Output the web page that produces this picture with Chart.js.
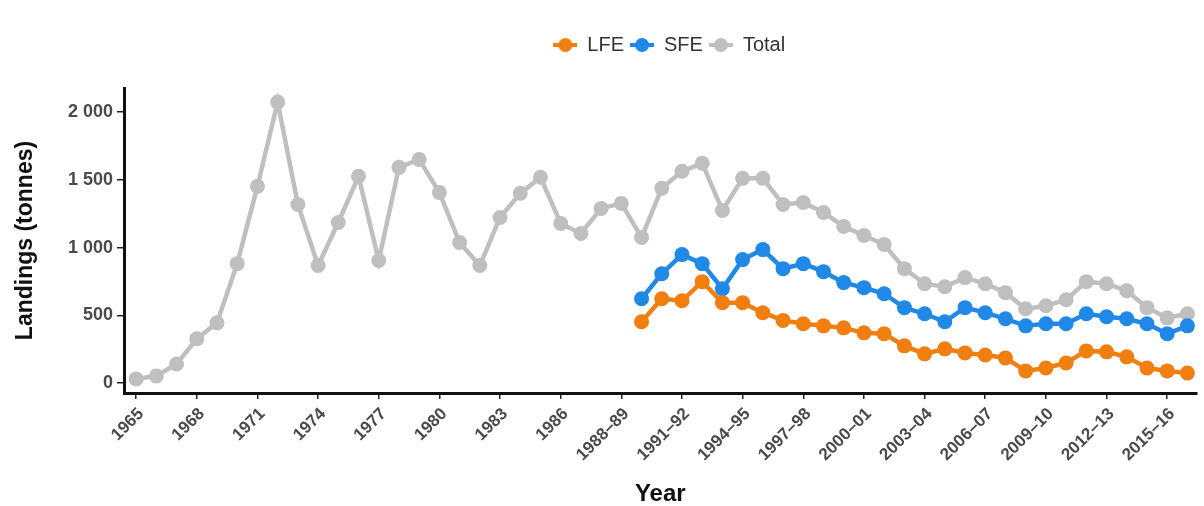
<!DOCTYPE html>
<html>
<head>
<meta charset="utf-8">
<script src="https://cdn.jsdelivr.net/npm/chart.js@4.4.1/dist/chart.umd.min.js"></script>
<style>
  html, body { margin: 0; padding: 0; background: #ffffff; }
  #wrap { width: 1204px; height: 506px; position: relative; }
</style>
</head>
<body>
<div id="wrap"><canvas id="landings"></canvas></div>
<script>
// Fishing years: calendar years to 1988, then financial seasons
const categories = [
  '1965','1966','1967','1968','1969','1970','1971','1972','1973','1974',
  '1975','1976','1977','1978','1979','1980','1981','1982','1983','1984',
  '1985','1986','1987','1988',
  '1988–89','1989–90','1990–91','1991–92','1992–93','1993–94','1994–95',
  '1995–96','1996–97','1997–98','1998–99','1999–00','2000–01','2001–02',
  '2002–03','2003–04','2004–05','2005–06','2006–07','2007–08','2008–09',
  '2009–10','2010–11','2011–12','2012–13','2013–14','2014–15','2015–16',
  '2016–17'
];

// Total landings (tonnes), one value per category
const totalLandings = [
  30, 52, 140, 326, 444, 881, 1452, 2074, 1318, 867,
  1185, 1526, 904, 1592, 1650, 1407, 1037, 867, 1222, 1400,
  1519, 1178, 1104, 1289,
  1326, 1074, 1437, 1563, 1622, 1274, 1511,
  1511, 1318, 1333, 1259, 1156, 1089, 1022,
  844, 733, 711, 778, 733, 667, 548,
  570, 615, 748, 733, 681, 556, 481,
  511
];

// Split fishery series begin in this season
const splitStart = '1989–90';

// Large-fish (LFE) landings from 1989–90
const lfeLandings = [
  452, 622, 607, 748, 593, 593, 519, 462, 437, 422,
  407, 370, 363, 274, 215, 252, 222, 207, 185, 89,
  111, 148, 237, 230, 193, 111, 89, 74
];

// Small-fish (SFE) landings from 1989–90
const sfeLandings = [
  622, 807, 948, 881, 696, 911, 985, 844, 881, 822,
  741, 704, 659, 556, 511, 452, 556, 519, 474, 422,
  437, 437, 511, 489, 474, 437, 363, 422
];

const yTickValues = [0, 500, 1000, 1500, 2000];
const xTickStep = 3;

const seriesColours = { LFE: '#F07F10', SFE: '#2088E6', Total: '#BFBFBF' };

const startIdx = categories.indexOf(splitStart);
const toPoints = (arr, offset) => arr.map((v, i) => ({ x: i + offset, y: v }));

const formatThousands = v => {
  const s = String(Math.round(v));
  return s.length > 3 ? s.slice(0, s.length - 3) + ' ' + s.slice(-3) : s;
};

// Legend key: short line segment with a dot on it
function legendKey(colour) {
  const c = document.createElement('canvas');
  c.width = 24; c.height = 16;
  const g = c.getContext('2d');
  g.strokeStyle = colour;
  g.lineWidth = 4;
  g.beginPath(); g.moveTo(0, 8); g.lineTo(24, 8); g.stroke();
  g.fillStyle = colour;
  g.beginPath(); g.arc(12, 8, 7, 0, Math.PI * 2); g.fill();
  return c;
}

// Extra room between the legend and the plot, and a slight nudge to the right
const legendPlacement = {
  id: 'legendPlacement',
  beforeInit(chart) {
    const origFit = chart.legend.fit;
    chart.legend.fit = function () {
      origFit.bind(chart.legend)();
      this.height += 23;
    };
  },
  afterLayout(chart) {
    chart.legend.left += 9;
    chart.legend.right += 9;
  }
};

const family = 'Liberation Sans, Arial, sans-serif';

const lineDataset = (label, points) => ({
  label,
  data: points,
  borderColor: seriesColours[label],
  backgroundColor: seriesColours[label],
  borderWidth: 4.5,
  pointRadius: 7.5,
  pointBorderWidth: 0,
  pointHoverRadius: 7.5
});

new Chart(document.getElementById('landings'), {
  type: 'line',
  data: {
    datasets: [
      lineDataset('LFE', toPoints(lfeLandings, startIdx)),
      lineDataset('SFE', toPoints(sfeLandings, startIdx)),
      lineDataset('Total', toPoints(totalLandings, 0))
    ]
  },
  options: {
    responsive: true,
    maintainAspectRatio: false,
    animation: false,
    layout: { padding: { top: 29, right: 0, bottom: 0, left: 0 } },
    plugins: {
      legend: {
        position: 'top',
        align: 'center',
        fullSize: false,
        labels: {
          usePointStyle: true,
          pointStyleWidth: 24,
          boxHeight: 16,
          padding: 6,
          color: '#333333',
          font: { family, size: 20 },
          generateLabels(chart) {
            const items = Chart.defaults.plugins.legend.labels.generateLabels(chart);
            items.forEach(it => { it.pointStyle = legendKey(seriesColours[it.text]); });
            return items;
          }
        }
      },
      tooltip: { enabled: false }
    },
    scales: {
      x: {
        type: 'linear',
        min: -0.6,
        max: 52.45,
        afterBuildTicks(scale) {
          const t = [];
          for (let i = 0; i < categories.length; i += xTickStep) t.push({ value: i });
          scale.ticks = t;
        },
        afterFit(scale) { scale.height = 113; },
        ticks: {
          autoSkip: false,
          minRotation: 45,
          maxRotation: 45,
          padding: 5,
          labelOffset: 5,
          color: '#4a4a4a',
          font: { family, size: 17, weight: 'bold' },
          callback: v => categories[v]
        },
        grid: { display: true, drawOnChartArea: false, drawTicks: true, tickLength: 6, color: '#222222', lineWidth: 1.5 },
        border: { display: true, color: '#111111', width: 3 },
        title: {
          display: true,
          text: 'Year',
          color: '#111111',
          padding: { top: 0, bottom: -3 },
          font: { family, size: 24, weight: 'bold' }
        }
      },
      y: {
        type: 'linear',
        min: -74,
        max: 2178,
        afterBuildTicks(scale) {
          scale.ticks = yTickValues.map(v => ({ value: v }));
        },
        afterFit(scale) { scale.width = 124; },
        ticks: {
          padding: 4,
          color: '#4a4a4a',
          font: { family, size: 18, weight: 'bold' },
          callback: v => formatThousands(v)
        },
        grid: { display: true, drawOnChartArea: false, drawTicks: true, tickLength: 7, color: '#222222', lineWidth: 1.5 },
        border: { display: true, color: '#111111', width: 3 },
        title: {
          display: true,
          text: 'Landings (tonnes)',
          color: '#111111',
          padding: { top: 12, bottom: 0 },
          font: { family, size: 23, weight: 'bold' }
        }
      }
    }
  },
  plugins: [legendPlacement]
});
</script>
</body>
</html>
